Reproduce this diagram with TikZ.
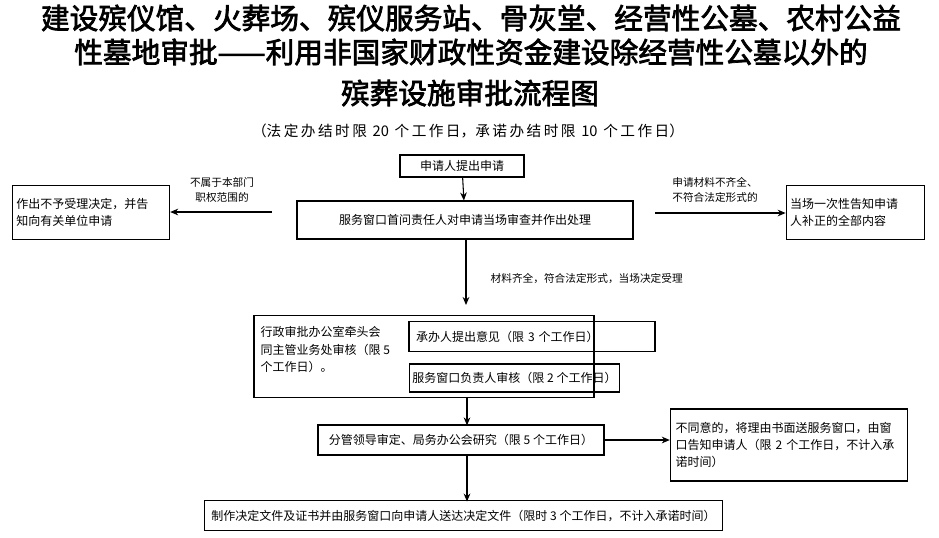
\documentclass[tikz,border=0pt]{standalone}
\usepackage{fontspec}
\setmainfont{Noto Sans CJK SC}
\newfontfamily\titlefont[FakeBold=2.5]{Noto Sans CJK SC}
\usetikzlibrary{positioning,arrows.meta}
\tikzset{
  stepbox/.style={draw,thick,align=left,inner sep=0pt,font=\fontsize{9}{13}\selectfont},
  tag/.style={align=center,font=\fontsize{8}{11}\selectfont},
  flow/.style={-{Stealth[length=6pt,width=5pt]},thick},
}
\begin{document}
\begin{tikzpicture}[x=0.75pt,y=-0.75pt]
\useasboundingbox (0,0) rectangle (939,537);
% title
\node[font=\titlefont\fontsize{21.5}{21.5}\selectfont] (t1) at (471,18) {建设殡仪馆、火葬场、殡仪服务站、骨灰堂、经营性公墓、农村公益};
\node[font=\titlefont\fontsize{21.5}{21.5}\selectfont] (t2) at (471,52) {性墓地审批——利用非国家财政性资金建设除经营性公墓以外的};
\node[font=\titlefont\fontsize{21.5}{21.5}\selectfont] (t3) at (470,93) {殡葬设施审批流程图};
\node[font=\fontsize{11}{12}\selectfont] (sub) at (468,131) {（法\,定\,办\,结\,时\,限\, 20 \,个\,工\,作\,日，承\,诺\,办\,结\,时\,限\, 10 \,个\,工\,作\,日）};
% boxes
\node[stepbox,minimum width=93pt,minimum height=16.5pt,align=center] (apply) at (462,166) {申请人提出申请};
\node[stepbox,minimum width=252pt,minimum height=28.5pt,align=center] (check) at (465,220) {服务窗口首问责任人对申请当场审查并作出处理};
\node[stepbox,text width=112pt,minimum height=40pt,inner xsep=3pt] (refuse) at (91,212.5) {作出不予受理决定，并告\\知向有关单位申请};
\node[stepbox,text width=98pt,minimum height=40pt,inner xsep=3pt] (notify) at (855.5,212.5) {当场一次性告知申请\\人补正的全部内容};
\node[stepbox,minimum width=255pt,minimum height=62pt] (review) at (424,356.5) {};
\node[align=left,anchor=north west,font=\fontsize{9}{13}\selectfont] (reviewtxt) at (256,322) {行政审批办公室牵头会\\同主管业务处审核（限 5\\个工作日）。};
\node[stepbox,minimum width=184.5pt,minimum height=22pt,align=left,text width=174pt,inner xsep=5pt] (opinion) at (532,336.5) {承办人提出意见（限 3 个工作日）};
\node[stepbox,minimum width=158pt,minimum height=21pt,align=center] (window) at (514.5,378) {服务窗口负责人审核（限 2 个工作日）};
\node[stepbox,minimum width=214.5pt,minimum height=22.5pt,align=center] (lead) at (461,440) {分管领导审定、局务办公会研究（限 5 个工作日）};
\node[stepbox,text width=170pt,minimum height=54pt,inner xsep=4pt] (deny) at (789,445) {不同意的，将理由书面送服务窗口，由窗\\口告知申请人（限 2 个工作日，不计入承\\诺时间）};
\node[stepbox,minimum width=388pt,minimum height=22pt,align=center] (issue) at (463.5,515.5) {制作决定文件及证书并由服务窗口向申请人送达决定文件（限时 3 个工作日，不计入承诺时间）};
% connectors
\coordinate (cl) at (272,212);
\coordinate (cr) at (655,213);
\coordinate (cd) at (466,305);
\draw[flow] (apply) -- (check);
\draw[flow] (cl) -- (refuse.east |- cl);
\draw[flow] (cr) -- (notify.west |- cr);
\draw[flow] (check.south -| cd) -- (cd);
\draw[flow] (review.south -| lead.north) ++(6,0) -- ++(0,27);
\draw[flow] (lead) -- (deny.west |- lead);
\draw[flow] (lead.south) ++(6,0) -- ++(0,46);
% labels
\node[tag] (lbl1) at (222,190) {不属于本部门\\职权范围的};
\node[tag] (lbl2) at (715,190) {申请材料不齐全、\\不符合法定形式的};
\node[tag,anchor=west] (lbl3) at (486,279) {材料齐全，符合法定形式，当场决定受理};
\end{tikzpicture}
\end{document}
